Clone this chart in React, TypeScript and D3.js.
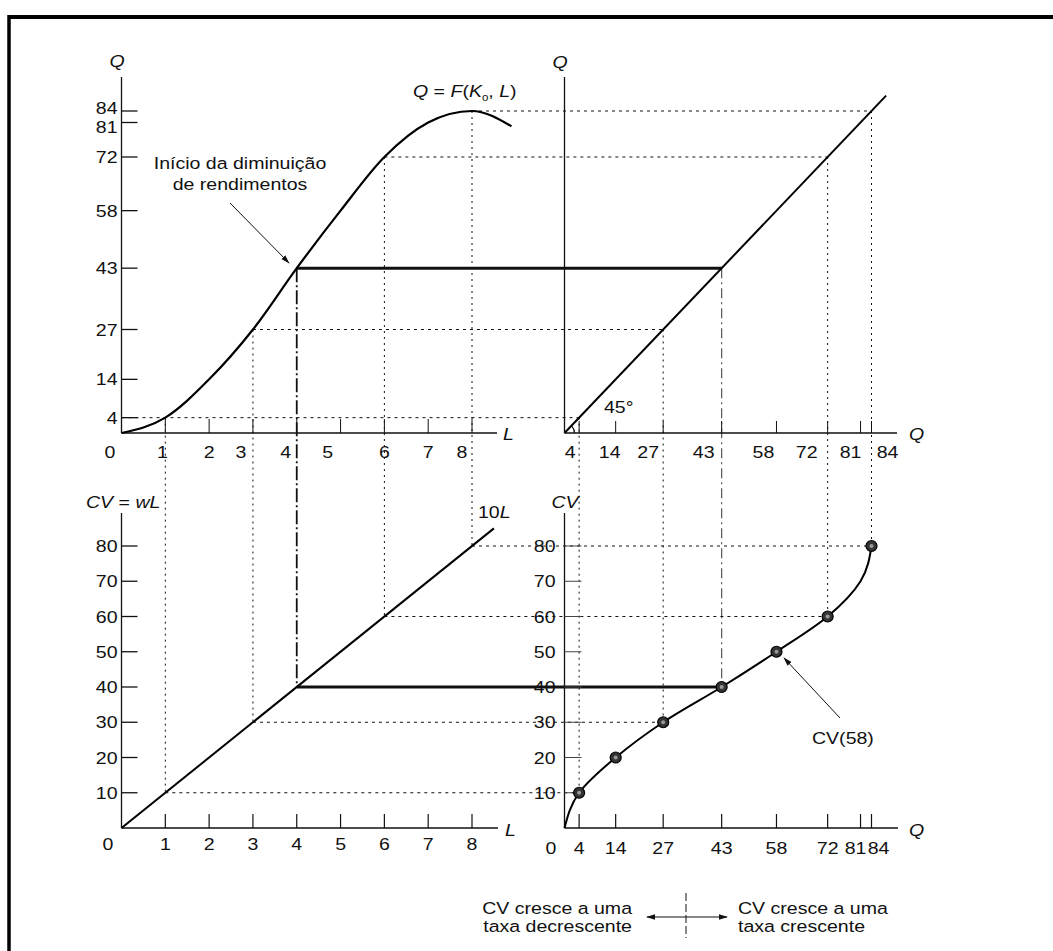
import React from "react";
import * as d3 from "d3";

// labour units and the output / variable cost read at each one
const labour = [0, 1, 2, 3, 4, 5, 6, 7, 8];
const output = [0, 4, 14, 27, 43, 58, 72, 81, 84];
const varCost = [0, 10, 20, 30, 40, 50, 60, 70, 80];

// where the production curve turns down after its peak
const prodTail = { L: 8.9, Q: 80 };

// ticks
const lTicks = [1, 2, 3, 4, 5, 6, 7, 8];
const qTicks = [4, 14, 27, 43, 58, 72, 81, 84];
const cvTicks = [10, 20, 30, 40, 50, 60, 70, 80];

// which labour levels are projected across the four panels
const projected = [1, 3, 4, 6, 8];
const thickAt = 4;
// points marked on the CV(Q) curve
const marked = [4, 14, 27, 43, 58, 72, 84];

// nudges for crowded labels
const topQShift: Record<number, number> = { 4: -9, 14: -6, 27: -15, 43: -18, 58: -13, 72: -21, 81: -10, 84: 16 };
const topLShift: Record<number, number> = { 1: -3, 3: -12, 4: -11, 5: -13, 8: -10 };
const botQShift: Record<number, number> = { 81: -5, 84: 7 };
const leftQShift: Record<number, number> = { 84: -3, 81: 4 };

const W = 1053;
const H = 951;
const FONT = "'Liberation Sans', Arial, Helvetica, sans-serif";
const SX = 1.15; // the scan is a little wider than tall

// text drawn with the slight horizontal stretch of the original print
function Txt({ x, y, anchor = "start", italic = false, size = 17, children }: any) {
  return (
    <text
      transform={`translate(${x},${y}) scale(${SX},1)`}
      textAnchor={anchor}
      fontFamily={FONT}
      fontSize={size}
      fontStyle={italic ? "italic" : "normal"}
      fill="#111"
    >
      {children}
    </text>
  );
}

export default function App() {
  // scales shared by rows / columns
  const xL = d3.scaleLinear().domain([0, 8]).range([121.5, 472]);
  const yQ = d3.scaleLinear().domain([0, 84]).range([433, 111]);
  const xQ = d3.scaleLinear().domain([0, 84]).range([564.5, 871.5]);
  const yCV = d3.scaleLinear().domain([0, 80]).range([828, 546]);

  const prodPts: [number, number][] = labour.map((l, i) => [xL(l), yQ(output[i])]);
  prodPts.push([xL(prodTail.L), yQ(prodTail.Q)]);
  const prodPath = d3.line().curve(d3.curveMonotoneX)(prodPts) || "";

  const cvPts: [number, number][] = output.map((q, i) => [xQ(q), yCV(varCost[i])]);
  const cvPath = d3.line().curve(d3.curveMonotoneY)(cvPts) || "";

  const dot = { stroke: "#111", strokeWidth: 1, strokeDasharray: "3 4", fill: "none" };
  const vdot = { stroke: "#111", strokeWidth: 1, strokeDasharray: "2 4", fill: "none" };
  const axis = { stroke: "#111", strokeWidth: 1.3 };

  return (
    <div style={{ position: "absolute", left: 0, top: 0 }}>
      <svg width={W} height={H} style={{ display: "block", background: "#fff" }}>
        <defs>
          <marker id="ah" viewBox="0 0 10 10" refX="9" refY="5" markerWidth="9" markerHeight="9" orient="auto-start-reverse">
            <path d="M0,2 L10,5 L0,8 z" fill="#111" />
          </marker>
        </defs>

        {/* frame: top and left rules */}
        <line x1={8} y1={17} x2={W} y2={17} stroke="#000" strokeWidth={4} />
        <line x1={9} y1={15} x2={9} y2={H} stroke="#000" strokeWidth={3.5} />

        {/* projection lines */}
        {projected.map((l) => {
          const q = output[l];
          const c = varCost[l];
          const thick = l === thickAt;
          const hStart = l === 1 ? xL(0) : xL(l);
          return (
            <g key={"p" + l}>
              <line x1={hStart} y1={yQ(q)} x2={xQ(q)} y2={yQ(q)}
                {...(thick ? { stroke: "#111", strokeWidth: 3 } : dot)} />
              <line x1={xL(l)} y1={yQ(q)} x2={xL(l)} y2={yCV(c)}
                {...(thick ? { stroke: "#111", strokeWidth: 1.8, strokeDasharray: "14 3 2 3" } : vdot)} />
              <line x1={xQ(q)} y1={yQ(q)} x2={xQ(q)} y2={yCV(c)}
                {...(thick ? { stroke: "#555", strokeWidth: 1.2, strokeDasharray: "10 4 2 4" } : vdot)} />
              <line x1={xL(l)} y1={yCV(c)} x2={xQ(q)} y2={yCV(c)}
                {...(thick ? { stroke: "#111", strokeWidth: 3 } : dot)} />
            </g>
          );
        })}

        {/* ===== top-left: production function ===== */}
        <line x1={xL(0)} y1={77} x2={xL(0)} y2={yQ(0)} {...axis} />
        <line x1={xL(0)} y1={yQ(0)} x2={497} y2={yQ(0)} {...axis} />
        {qTicks.map((q) => (
          <g key={"tlq" + q}>
            <line x1={xL(0)} y1={yQ(q)} x2={xL(0) + 16} y2={yQ(q)} stroke="#111" strokeWidth={1.3} />
            <Txt x={xL(0) - 4} y={yQ(q) + 6 + (leftQShift[q] || 0)} anchor="end">{q}</Txt>
          </g>
        ))}
        {lTicks.map((l) => (
          <g key={"tll" + l}>
            <line x1={xL(l)} y1={yQ(0)} x2={xL(l)} y2={yQ(0) - 14} stroke="#111" strokeWidth={1} />
            <Txt x={xL(l) + (topLShift[l] || 0)} y={458} anchor="middle">{l}</Txt>
          </g>
        ))}
        <Txt x={110} y={458} anchor="middle">0</Txt>
        <Txt x={117} y={67} anchor="middle" italic>Q</Txt>
        <Txt x={503} y={440} italic>L</Txt>
        <path d={prodPath} fill="none" stroke="#000" strokeWidth={2.2} />
        <Txt x={413} y={97}>
          <tspan fontStyle="italic">Q</tspan> = <tspan fontStyle="italic">F</tspan>(<tspan fontStyle="italic">K</tspan>
          <tspan fontSize={10} dy={4}>o</tspan><tspan dy={-4}>, </tspan><tspan fontStyle="italic">L</tspan>)
        </Txt>
        <Txt x={240} y={169} anchor="middle">Início da diminuição</Txt>
        <Txt x={240} y={190} anchor="middle">de rendimentos</Txt>
        <line x1={230} y1={203} x2={289} y2={263} stroke="#111" strokeWidth={1} markerEnd="url(#ah)" />

        {/* ===== top-right: 45 degree line ===== */}
        <line x1={xQ(0)} y1={77} x2={xQ(0)} y2={yQ(0)} {...axis} />
        <line x1={xQ(0)} y1={yQ(0)} x2={897} y2={yQ(0)} {...axis} />
        {qTicks.map((q) => (
          <g key={"trq" + q}>
            <line x1={xQ(q)} y1={yQ(0)} x2={xQ(q)} y2={yQ(0) - 12} stroke="#111" strokeWidth={1} />
            <Txt x={xQ(q) + (topQShift[q] || 0)} y={458} anchor="middle">{q}</Txt>
          </g>
        ))}
        <line x1={xQ(0)} y1={yQ(0)} x2={xQ(88)} y2={yQ(88)} stroke="#000" strokeWidth={2} />
        <path
          d={d3.arc()({ innerRadius: 10, outerRadius: 10, startAngle: Math.PI / 4, endAngle: Math.PI / 2 }) || ""}
          transform={`translate(${xQ(0)},${yQ(0)})`} fill="none" stroke="#111" strokeWidth={1} />
        <Txt x={604} y={413}>45°</Txt>
        <Txt x={560} y={68} anchor="middle" italic>Q</Txt>
        <Txt x={909} y={440} italic>Q</Txt>

        {/* ===== bottom-left: CV = wL ===== */}
        <line x1={xL(0)} y1={513} x2={xL(0)} y2={yCV(0)} {...axis} />
        <line x1={xL(0)} y1={yCV(0)} x2={498} y2={yCV(0)} {...axis} />
        {cvTicks.map((c) => (
          <g key={"blc" + c}>
            <line x1={xL(0)} y1={yCV(c)} x2={xL(0) + 16} y2={yCV(c)} stroke="#111" strokeWidth={1.3} />
            <Txt x={xL(0) - 4} y={yCV(c) + 6} anchor="end">{c}</Txt>
          </g>
        ))}
        {lTicks.map((l) => (
          <g key={"bll" + l}>
            <line x1={xL(l)} y1={yCV(0)} x2={xL(l)} y2={yCV(0) - 14} stroke="#111" strokeWidth={1.2} />
            <Txt x={xL(l)} y={850} anchor="middle">{l}</Txt>
          </g>
        ))}
        <Txt x={108} y={850} anchor="middle">0</Txt>
        <line x1={xL(0)} y1={yCV(0)} x2={xL(8.5)} y2={yCV(85)} stroke="#000" strokeWidth={2} />
        <Txt x={478} y={518}>10<tspan fontStyle="italic">L</tspan></Txt>
        <Txt x={86} y={508}>
          <tspan fontStyle="italic">CV</tspan> = <tspan fontStyle="italic">wL</tspan>
        </Txt>
        <Txt x={505} y={836} italic>L</Txt>

        {/* ===== bottom-right: CV(Q) ===== */}
        <line x1={xQ(0)} y1={513} x2={xQ(0)} y2={yCV(0)} {...axis} />
        <line x1={xQ(0)} y1={yCV(0)} x2={898} y2={yCV(0)} {...axis} />
        {cvTicks.map((c) => (
          <g key={"brc" + c}>
            <line x1={xQ(0)} y1={yCV(c)} x2={xQ(0) + 17} y2={yCV(c)} stroke="#444" strokeWidth={1} />
            <Txt x={xQ(0) - 9} y={yCV(c) + 6} anchor="end">{c}</Txt>
          </g>
        ))}
        {qTicks.map((q) => (
          <g key={"brq" + q}>
            <line x1={xQ(q)} y1={yCV(0)} x2={xQ(q)} y2={yCV(0) - 14} stroke="#111" strokeWidth={1.2} />
            <Txt x={xQ(q) + (botQShift[q] || 0)} y={854} anchor="middle">{q}</Txt>
          </g>
        ))}
        <Txt x={551} y={854} anchor="middle">0</Txt>
        <path d={cvPath} fill="none" stroke="#000" strokeWidth={2} />
        {marked.map((q) => {
          const i = output.indexOf(q);
          return (
            <g key={"m" + q}>
              <circle cx={xQ(q)} cy={yCV(varCost[i])} r={5.5} fill="#333" stroke="#000" strokeWidth={1.2} />
              <circle cx={xQ(q)} cy={yCV(varCost[i])} r={2} fill="#999" />
            </g>
          );
        })}
        <Txt x={565} y={508} anchor="middle" italic>CV</Txt>
        <Txt x={909} y={836} italic>Q</Txt>
        <Txt x={812} y={744}>CV(58)</Txt>
        <line x1={840} y1={718} x2={784} y2={658} stroke="#111" strokeWidth={1} markerEnd="url(#ah)" />

        {/* ===== bottom caption ===== */}
        <Txt x={632} y={914} anchor="end">CV cresce a uma</Txt>
        <Txt x={632} y={932} anchor="end">taxa decrescente</Txt>
        <line x1={647} y1={917} x2={727} y2={917} stroke="#111" strokeWidth={1}
          markerStart="url(#ah)" markerEnd="url(#ah)" />
        <line x1={686} y1={893} x2={686} y2={938} stroke="#111" strokeWidth={1} strokeDasharray="8 3" />
        <Txt x={738} y={914}>CV cresce a uma</Txt>
        <Txt x={738} y={932}>taxa crescente</Txt>
      </svg>
    </div>
  );
}
